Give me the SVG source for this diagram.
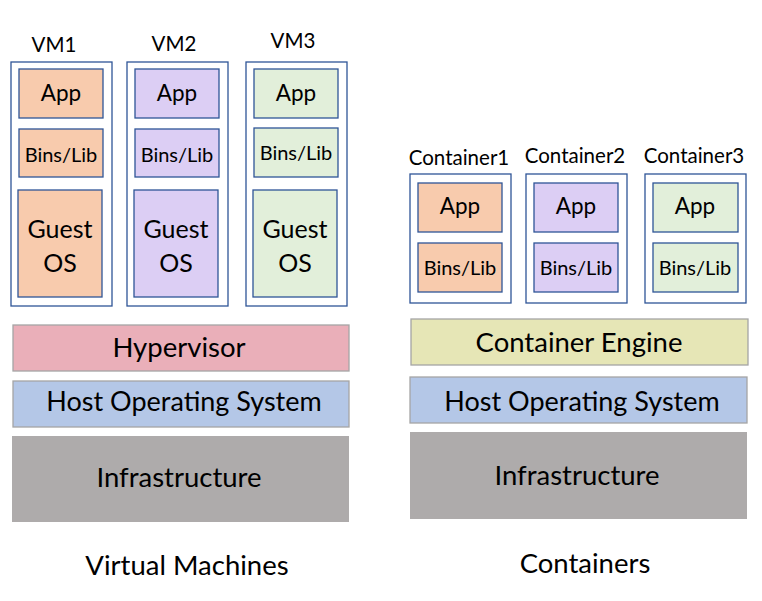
<svg xmlns="http://www.w3.org/2000/svg" width="762" height="601" viewBox="0 0 762 601">
<style>
text{font-family:Lato,"Liberation Sans",sans-serif;fill:#000;text-anchor:middle}
.outer{fill:#fff;stroke:#2f5597;stroke-width:1.3}
.in{stroke:#2f5597;stroke-width:1.3}
.o{fill:#f8cbad}.p{fill:#dccef4}.g{fill:#e2efda}
.bar{stroke:#a5a5a5;stroke-width:1.3}
.lbl{font-size:20.5px}
.app{font-size:22.5px}
.bins{font-size:20px}
.gos{font-size:25px}
.big{font-size:27.5px}
.hos{font-size:27px}
</style>
<rect width="762" height="601" fill="#fff"/>
<g id="vm1">
<text class="lbl" x="54" y="52">VM1</text>
<rect class="outer" x="11" y="62" width="101" height="244"/>
<rect class="in o" x="19" y="69" width="84" height="49"/><text class="app" x="61" y="101">App</text>
<rect class="in o" x="19" y="129" width="84" height="48"/><text class="bins" x="61" y="162">Bins/Lib</text>
<rect class="in o" x="18" y="190" width="84" height="107"/><text class="gos" x="60" y="238">Guest</text><text class="gos" x="60" y="272">OS</text>
</g>
<g id="vm2">
<text class="lbl" x="174" y="51">VM2</text>
<rect class="outer" x="127" y="62" width="101" height="244"/>
<rect class="in p" x="135" y="69" width="84" height="49"/><text class="app" x="177" y="101">App</text>
<rect class="in p" x="135" y="129" width="84" height="48"/><text class="bins" x="177" y="162">Bins/Lib</text>
<rect class="in p" x="134" y="190" width="84" height="107"/><text class="gos" x="176" y="238">Guest</text><text class="gos" x="176" y="272">OS</text>
</g>
<g id="vm3">
<text class="lbl" x="293" y="48">VM3</text>
<rect class="outer" x="246" y="62" width="101" height="244"/>
<rect class="in g" x="254" y="69" width="84" height="49"/><text class="app" x="296" y="101">App</text>
<rect class="in g" x="254" y="128" width="84" height="49"/><text class="bins" x="296" y="160">Bins/Lib</text>
<rect class="in g" x="253" y="190" width="84" height="107"/><text class="gos" x="295" y="238">Guest</text><text class="gos" x="295" y="272">OS</text>
</g>
<g id="hypervisor"><rect class="bar" x="13" y="325" width="336" height="46" fill="#eaafb9"/><text class="big" x="179" y="357">Hypervisor</text></g>
<g id="hostos1"><rect class="bar" x="13" y="381" width="336" height="46" fill="#b4c7e7"/><text class="hos" x="184" y="411">Host Operating System</text></g>
<g id="infra1"><rect x="12" y="436" width="337" height="86" fill="#aeabab"/><text class="big" x="179" y="487">Infrastructure</text></g>
<g id="label-vm"><text class="big" x="187" y="575">Virtual Machines</text></g>
<g id="c1">
<text class="lbl" x="459" y="165">Container1</text>
<rect class="outer" x="410" y="174" width="101" height="129"/>
<rect class="in o" x="418" y="183" width="84" height="49"/><text class="app" x="460" y="214">App</text>
<rect class="in o" x="418" y="243" width="84" height="49"/><text class="bins" x="460" y="275">Bins/Lib</text>
</g>
<g id="c2">
<text class="lbl" x="575" y="163">Container2</text>
<rect class="outer" x="526" y="174" width="101" height="129"/>
<rect class="in p" x="534" y="183" width="84" height="49"/><text class="app" x="576" y="214">App</text>
<rect class="in p" x="534" y="243" width="84" height="49"/><text class="bins" x="576" y="275">Bins/Lib</text>
</g>
<g id="c3">
<text class="lbl" x="694" y="163">Container3</text>
<rect class="outer" x="645" y="174" width="101" height="129"/>
<rect class="in g" x="653" y="183" width="85" height="49"/><text class="app" x="695" y="214">App</text>
<rect class="in g" x="653" y="243" width="85" height="49"/><text class="bins" x="695" y="275">Bins/Lib</text>
</g>
<g id="engine"><rect class="bar" x="411" y="319" width="337" height="46" fill="#e6e6b6"/><text class="big" x="579" y="352">Container Engine</text></g>
<g id="hostos2"><rect class="bar" x="410" y="377" width="337" height="46" fill="#b4c7e7"/><text class="hos" x="582" y="411">Host Operating System</text></g>
<g id="infra2"><rect x="410" y="432" width="337" height="87" fill="#aeabab"/><text class="big" x="577" y="485">Infrastructure</text></g>
<g id="label-ct"><text class="big" x="585" y="573">Containers</text></g>
<g id="connectors"/>
</svg>
